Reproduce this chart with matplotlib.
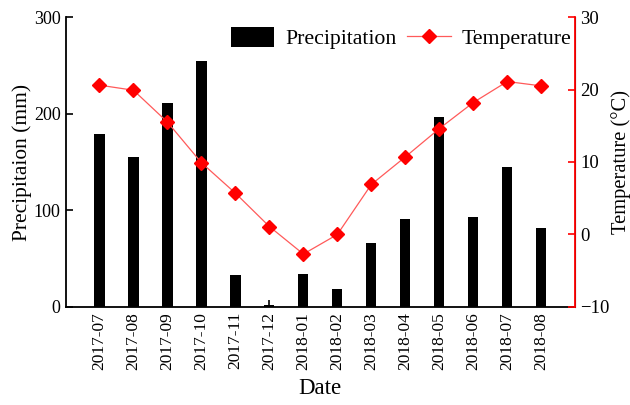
import matplotlib.pyplot as plt
import numpy as np

# monthly precipitation (mm) and mean temperature (°C)
dates = ["2017-07", "2017-08", "2017-09", "2017-10", "2017-11", "2017-12", "2018-01",
         "2018-02", "2018-03", "2018-04", "2018-05", "2018-06", "2018-07", "2018-08"]
precip = [179, 155.5, 211, 254, 32.8, 2, 34, 19, 66.5, 90.7, 197, 93.4, 144.5, 81.4]
temp = [20.6, 19.9, 15.5, 9.9, 5.7, 1.1, -2.7, 0.0, 6.9, 10.7, 14.6, 18.2, 21.1, 20.5]

plt.rcParams["font.family"] = ["Liberation Serif", "DejaVu Serif"]

fig = plt.figure(figsize=(6.3, 4.05), dpi=100)
ax = fig.add_axes([0.104, 0.242, 0.809, 0.716])
x = np.arange(len(dates))

bars = ax.bar(x, precip, width=0.3, color="black", label="Precipitation")
ax.set_xlim(-1, len(dates))
ax.set_ylim(0, 300)
ax.set_yticks([0, 100, 200, 300])
ax.set_xticks(x)
ax.set_xticklabels(dates, rotation=90, fontsize=12.5)
ax.tick_params(axis="both", direction="in", length=5, width=1.2, labelsize=13)
ax.tick_params(axis="x", labelsize=12.5)
ax.set_ylabel("Precipitaion (mm)", fontsize=15.4, labelpad=1)
ax.set_xlabel("Date", fontsize=16.5, labelpad=6)
ax.spines["top"].set_visible(False)
for s in ["left", "bottom"]:
    ax.spines[s].set_linewidth(1.3)

ax2 = ax.twinx()
line, = ax2.plot(x, temp, color="#ff5a5a", lw=0.9, marker="D", ms=7,
                 mfc="red", mec="red", label="Temperature")
ax2.set_ylim(-10, 30)
ax2.set_yticks([-10, 0, 10, 20, 30])
ax2.tick_params(axis="y", direction="in", length=5, width=1.2, color="red", labelsize=13.5)
ax2.set_ylabel("Temperature (\u00b0C)", fontsize=14.8, labelpad=1)
ax2.spines["right"].set_color("red")
ax2.spines["right"].set_linewidth(1.3)
ax2.spines["top"].set_visible(False)
ax2.spines["left"].set_visible(False)
ax2.spines["bottom"].set_visible(False)

ax2.legend([bars, line], ["Precipitation", "Temperature"], loc="upper right", ncol=2,
           frameon=False, fontsize=15.7, handlelength=2.0, handleheight=1.0,
           columnspacing=0.5, handletextpad=0.5, bbox_to_anchor=(1.01, 0.995),
           borderaxespad=0)

fig.savefig("out.png", dpi=100)
